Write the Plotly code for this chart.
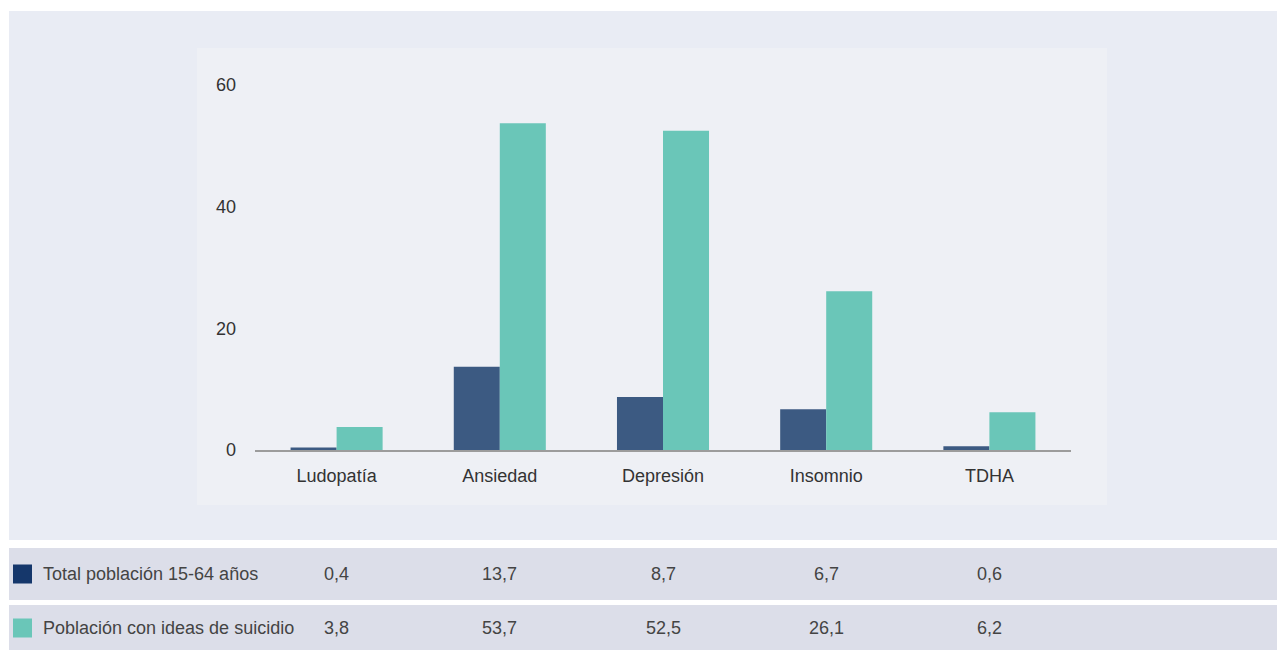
import plotly.graph_objects as go

categories = ["Ludopatía", "Ansiedad", "Depresión", "Insomnio", "TDHA"]
total_poblacion = [0.4, 13.7, 8.7, 6.7, 0.6]
ideas_suicidio = [3.8, 53.7, 52.5, 26.1, 6.2]
series_names = ["Total población 15-64 años", "Población con ideas de suicidio"]
y_ticks = [0, 20, 40, 60]

W, H = 1285, 650
OFF = 8  # page body margin
FONT = "Liberation Sans, Arial, sans-serif"
BAR_COLORS = ["#3c5a82", "#6ac6b8"]
KEY_COLORS = ["#15376b", "#6ac6b8"]


def px_x(x):
    return (x - OFF) / W


def px_y(y):
    return 1 - (y - OFF) / H


fig = go.Figure()
for name, vals, col in zip(series_names, [total_poblacion, ideas_suicidio], BAR_COLORS):
    fig.add_trace(go.Bar(x=categories, y=vals, name=name, marker=dict(color=col, line=dict(width=0)),
                         showlegend=False, hoverinfo="x+y"))

shapes = [
    # outer panel
    dict(type="rect", xref="paper", yref="paper", x0=px_x(9), x1=1, y0=px_y(540), y1=px_y(11),
         fillcolor="#e9ecf4", line=dict(width=0), layer="below"),
    # inner panel
    dict(type="rect", xref="paper", yref="paper", x0=px_x(197), x1=px_x(1107), y0=px_y(505), y1=px_y(48),
         fillcolor="#eef0f5", line=dict(width=0), layer="below"),
]
annotations = []

# table rows underneath the chart
rows = [(548, 600, 574), (605, 660, 628)]
for (top, bot, mid), name, vals, col in zip(rows, series_names, [total_poblacion, ideas_suicidio], KEY_COLORS):
    shapes.append(dict(type="rect", xref="paper", yref="paper", x0=px_x(9), x1=1, y0=px_y(bot), y1=px_y(top),
                       fillcolor="#dcdee9", line=dict(width=0), layer="below"))
    shapes.append(dict(type="rect", xref="paper", yref="paper", x0=px_x(13), x1=px_x(32),
                       y0=px_y(mid + 9.5), y1=px_y(mid - 9.5), fillcolor=col, line=dict(width=0)))
    annotations.append(dict(text=name, xref="paper", yref="paper", x=px_x(41), y=px_y(mid),
                            xanchor="left", yanchor="middle", showarrow=False,
                            font=dict(size=18, color="#444444", family=FONT)))
    for c, v in zip(categories, vals):
        annotations.append(dict(text=f"{v:.1f}".replace(".", ","), xref="x", yref="paper", x=c, y=px_y(mid),
                                xanchor="center", yanchor="middle", showarrow=False,
                                font=dict(size=18, color="#444444", family=FONT)))

fig.update_layout(
    width=W, height=H,
    margin=dict(l=0, r=0, t=0, b=0, pad=0),
    paper_bgcolor="white",
    plot_bgcolor="rgba(0,0,0,0)",
    barmode="group",
    bargap=0.436,
    bargroupgap=0,
    font=dict(family=FONT, size=18, color="#333333"),
    shapes=shapes,
    annotations=annotations,
    xaxis=dict(domain=[px_x(255), px_x(1071)], showline=True, linecolor="#9c9c9c", linewidth=2,
               showgrid=False, zeroline=False, ticks="", ticklabelstandoff=8, automargin=False,
               tickfont=dict(size=18, color="#333333")),
    yaxis=dict(domain=[px_y(450), px_y(85)], range=[0, 60], tickvals=y_ticks, showgrid=False,
               zeroline=False, showline=False, ticks="", ticklabelstandoff=18, automargin=False,
               tickfont=dict(size=18, color="#333333")),
)

fig.write_html("out.html")
